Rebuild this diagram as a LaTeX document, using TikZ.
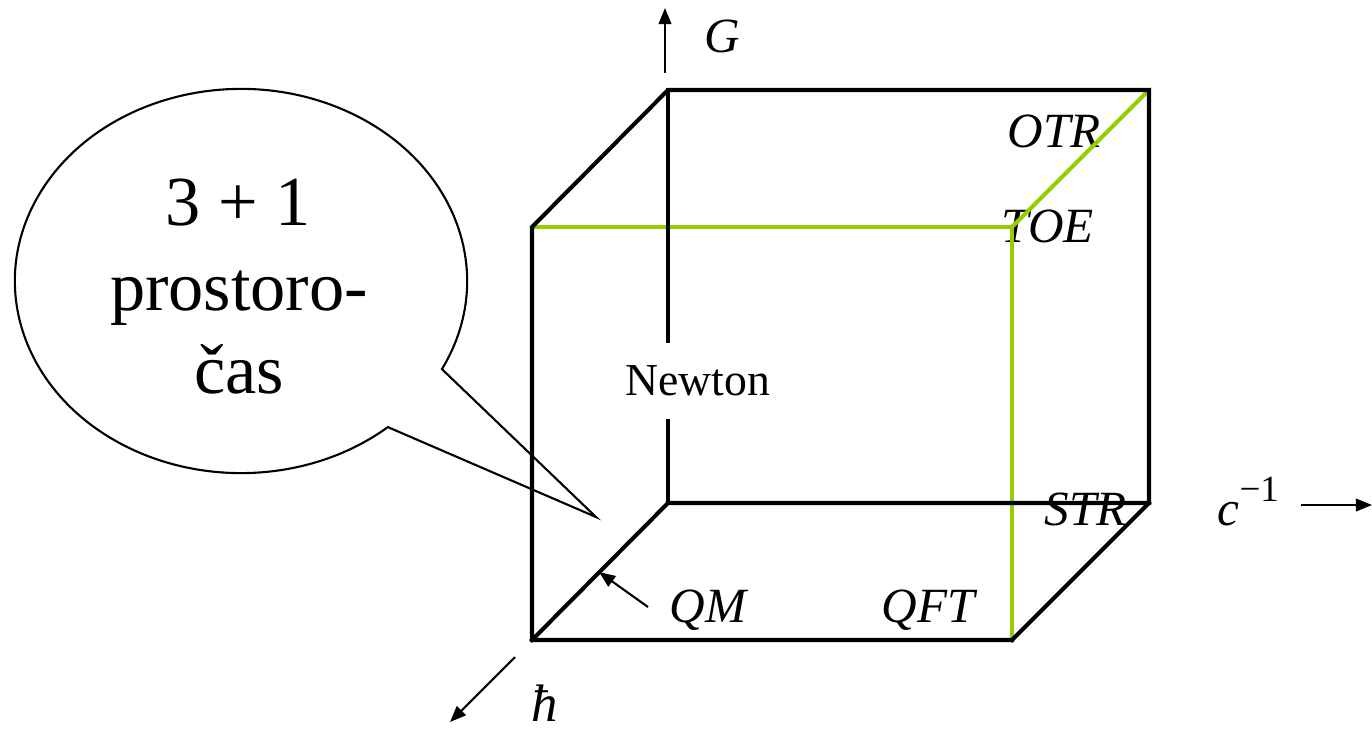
\documentclass[tikz,border=0pt]{standalone}
\usepackage{fontspec}
\setmainfont{Liberation Serif}
\usetikzlibrary{arrows.meta}
\definecolor{lgreen}{RGB}{153,204,0}
\begin{document}
\begin{tikzpicture}[x=0.01cm,y=-0.01cm,
  edge/.style={line width=1.15pt,line join=miter,line cap=rect},
  gedge/.style={line width=1.15pt,draw=lgreen,line join=miter},
  axis/.style={line width=0.6pt,-{Triangle[length=4.6pt,width=3.6pt]}},
  lab/.style={font=\fontsize{14}{14}\selectfont\itshape,inner sep=0pt,anchor=base west},
  big/.style={font=\fontsize{20}{24}\selectfont,inner sep=0pt,anchor=base}]
\useasboundingbox (0,0) rectangle (1372,729);
% cube corners
\coordinate (btl) at (668,90);
\coordinate (btr) at (1149,90);
\coordinate (bbr) at (1149,503);
\coordinate (bbl) at (668,503);
\coordinate (ftl) at (532,227);
\coordinate (ftr) at (1012,227);
\coordinate (fbr) at (1012,640);
\coordinate (fbl) at (532,640);
% labels
\node[font=\fontsize{13}{13}\selectfont,inner sep=0pt,minimum height=0.78cm] (newton) at (698,381) {Newton};
\node[lab] (otr) at (1007,147) {OTR};
\node[lab] (toe) at (1001,242) {TOE};
\node[lab] (str) at (1044,525) {STR};
\node[lab] (qft) at (881,622) {QFT};
\node[lab] (qm) at (669,622) {QM};
\node[lab] (g) at (704,52) {G};
\node[lab,font=\fontsize{15}{15}\selectfont\itshape] (hbar) at (531,721) {ħ};
\node[lab] (c) at (1217,525) {c\raisebox{1.05ex}{\fontsize{10.5}{10.5}\selectfont\upshape −1}};
% green lines
\draw[gedge] (ftl) -- (ftr) -- (fbr);
\draw[gedge] (ftr) -- (btr);
% black cube edges
\draw[edge] (fbr) -- (fbl) -- (ftl) -- (btl) -- (btr) -- (bbr) -- (bbl);
\draw[edge] (bbr) -- (fbr);
\draw[edge] (fbl) -- (bbl);
\draw[edge] (btl) -- (btl |- newton.north);
\draw[edge] (bbl |- newton.south) -- (bbl);
% axes
\coordinate (ga) at (665,73); \coordinate (gb) at (665,8);
\draw[axis] (ga) -- (gb);
\coordinate (ca) at (1301,505); \coordinate (cb) at (1372,505);
\draw[axis] (ca) -- (cb);
\coordinate (ha) at (515,657); \coordinate (hb) at (450,722);
\draw[axis] (ha) -- (hb);
\coordinate (qa) at (648,607); \coordinate (qb) at (599,572);
\draw[axis] (qa) -- (qb);
% speech bubble
\coordinate (bc) at (241,281);
\coordinate (tip) at (596,517);
\draw[line width=0.6pt,line join=miter] ([shift={(-27.3:2.26cm and 1.92cm)}]bc)
  arc[start angle=-27.3,end angle=310.5,x radius=2.26cm,y radius=1.92cm] -- (tip) -- cycle;
\node[big] (l1) at (238,225) {3 + 1};
\node[big] (l2) at (239,310) {prostoro-};
\node[big] (l3) at (239,393) {čas};
\end{tikzpicture}
\end{document}
